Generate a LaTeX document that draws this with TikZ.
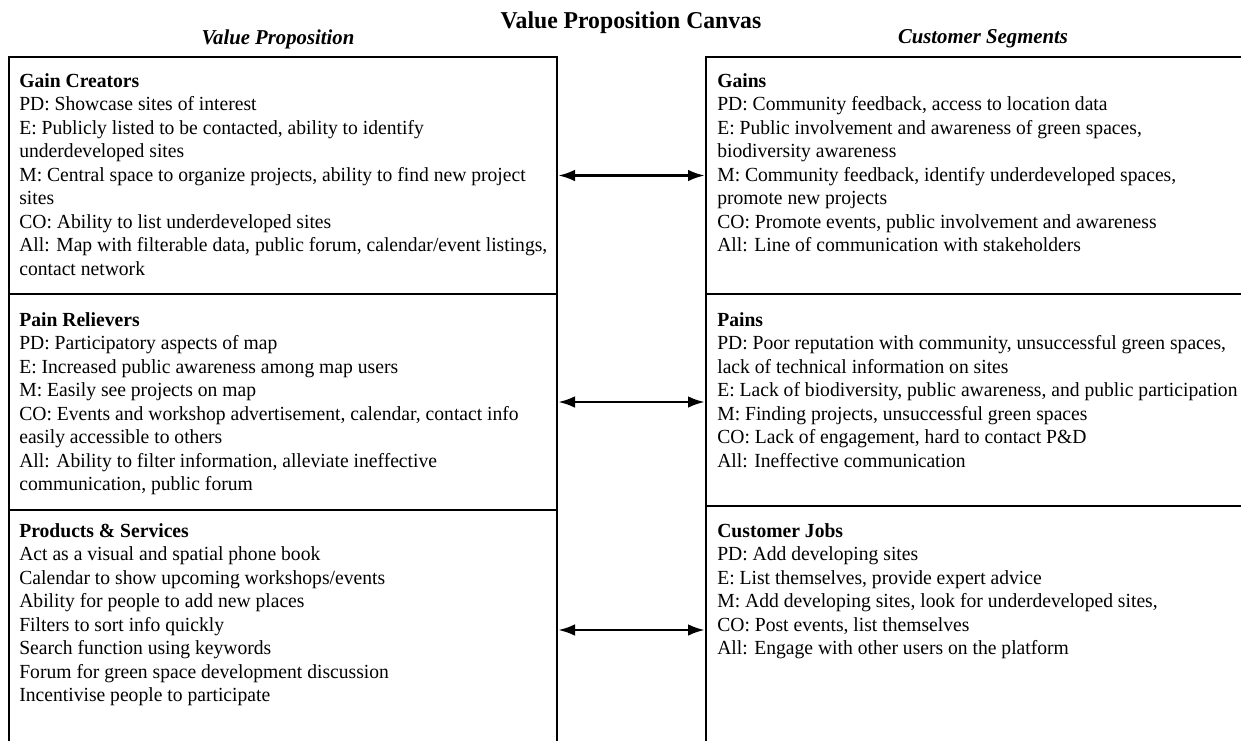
\documentclass[tikz,border=0pt]{standalone}
\usepackage{fontspec}
\setmainfont{Liberation Serif}[FakeStretch=0.98]
\usetikzlibrary{arrows.meta}
\begin{document}
\begin{tikzpicture}[x=0.6pt,y=-0.6pt,
  cell/.style={draw, line width=1.6pt, rectangle, inner sep=0pt, outer sep=0.8pt},
  txt/.style={anchor=north west, inner sep=0pt, align=left, font=\fontsize{12}{14.1}\selectfont},
  head/.style={inner sep=0pt, font=\fontsize{12.7}{14}\selectfont\bfseries\itshape},
  link/.style={{Latex[length=10pt,width=7pt]}-{Latex[length=10pt,width=7pt]}, line width=1.4pt}]
\useasboundingbox (0,0) rectangle (1241,740);
% column headers
\node[inner sep=0pt, font=\fontsize{14.5}{16}\selectfont\bfseries] (title) at (631,23) {Value Proposition Canvas};
\node[head] (vp) at (278,39) {Value Proposition};
\node[head] (cs) at (983,39) {Customer Segments};
% left boxes
\node[cell, minimum width=548*0.6pt, minimum height=237*0.6pt] (gc) at (283,175.5) {};
\node[cell, minimum width=548*0.6pt, minimum height=216*0.6pt] (pr) at (283,402) {};
\node[cell, minimum width=548*0.6pt, minimum height=250*0.6pt] (ps) at (283,635) {};
% right boxes
\node[cell, minimum width=544*0.6pt, minimum height=237*0.6pt] (g) at (978,175.5) {};
\node[cell, minimum width=544*0.6pt, minimum height=212*0.6pt] (p) at (978,400) {};
\node[cell, minimum width=544*0.6pt, minimum height=254*0.6pt] (cj) at (978,633) {};
% texts
\node[txt] (gct) at (19,73) {\textbf{Gain Creators}\\
PD: Showcase sites of interest\\
E: Publicly listed to be contacted, ability to identify\\
underdeveloped sites\\
M: Central space to organize projects, ability to find new project\\
sites\\
CO: Ability to list underdeveloped sites\\
All: Map with filterable data, public forum, calendar/event listings,\\
contact network};
\node[txt] (prt) at (19,312) {\textbf{Pain Relievers}\\
PD: Participatory aspects of map\\
E: Increased public awareness among map users\\
M: Easily see projects on map\\
CO: Events and workshop advertisement, calendar, contact info\\
easily accessible to others\\
All: Ability to filter information, alleviate ineffective\\
communication, public forum};
\node[txt] (pst) at (19,523) {\textbf{Products \& Services}\\
Act as a visual and spatial phone book\\
Calendar to show upcoming workshops/events\\
Ability for people to add new places\\
Filters to sort info quickly\\
Search function using keywords\\
Forum for green space development discussion\\
Incentivise people to participate};
\node[txt] (gt) at (717,73) {\textbf{Gains}\\
PD: Community feedback, access to location data\\
E: Public involvement and awareness of green spaces,\\
biodiversity awareness\\
M: Community feedback, identify underdeveloped spaces,\\
promote new projects\\
CO: Promote events, public involvement and awareness\\
All: Line of communication with stakeholders};
\node[txt] (pt) at (717,312) {\textbf{Pains}\\
PD: Poor reputation with community, unsuccessful green spaces,\\
lack of technical information on sites\\
E: Lack of biodiversity, public awareness, and public participation\\
M: Finding projects, unsuccessful green spaces\\
CO: Lack of engagement, hard to contact P\&D\\
All: Ineffective communication};
\node[txt] (cjt) at (717,523) {\textbf{Customer Jobs}\\
PD: Add developing sites\\
E: List themselves, provide expert advice\\
M: Add developing sites, look for underdeveloped sites,\\
CO: Post events, list themselves\\
All: Engage with other users on the platform};
% connectors
\draw[link] (gc.east) -- (gc.east -| g.west);
\draw[link] (pr.east) -- (pr.east -| p.west);
\draw[link] (ps.east |- 0,630) -- (ps.east |- 0,630 -| cj.west);
\end{tikzpicture}
\end{document}
